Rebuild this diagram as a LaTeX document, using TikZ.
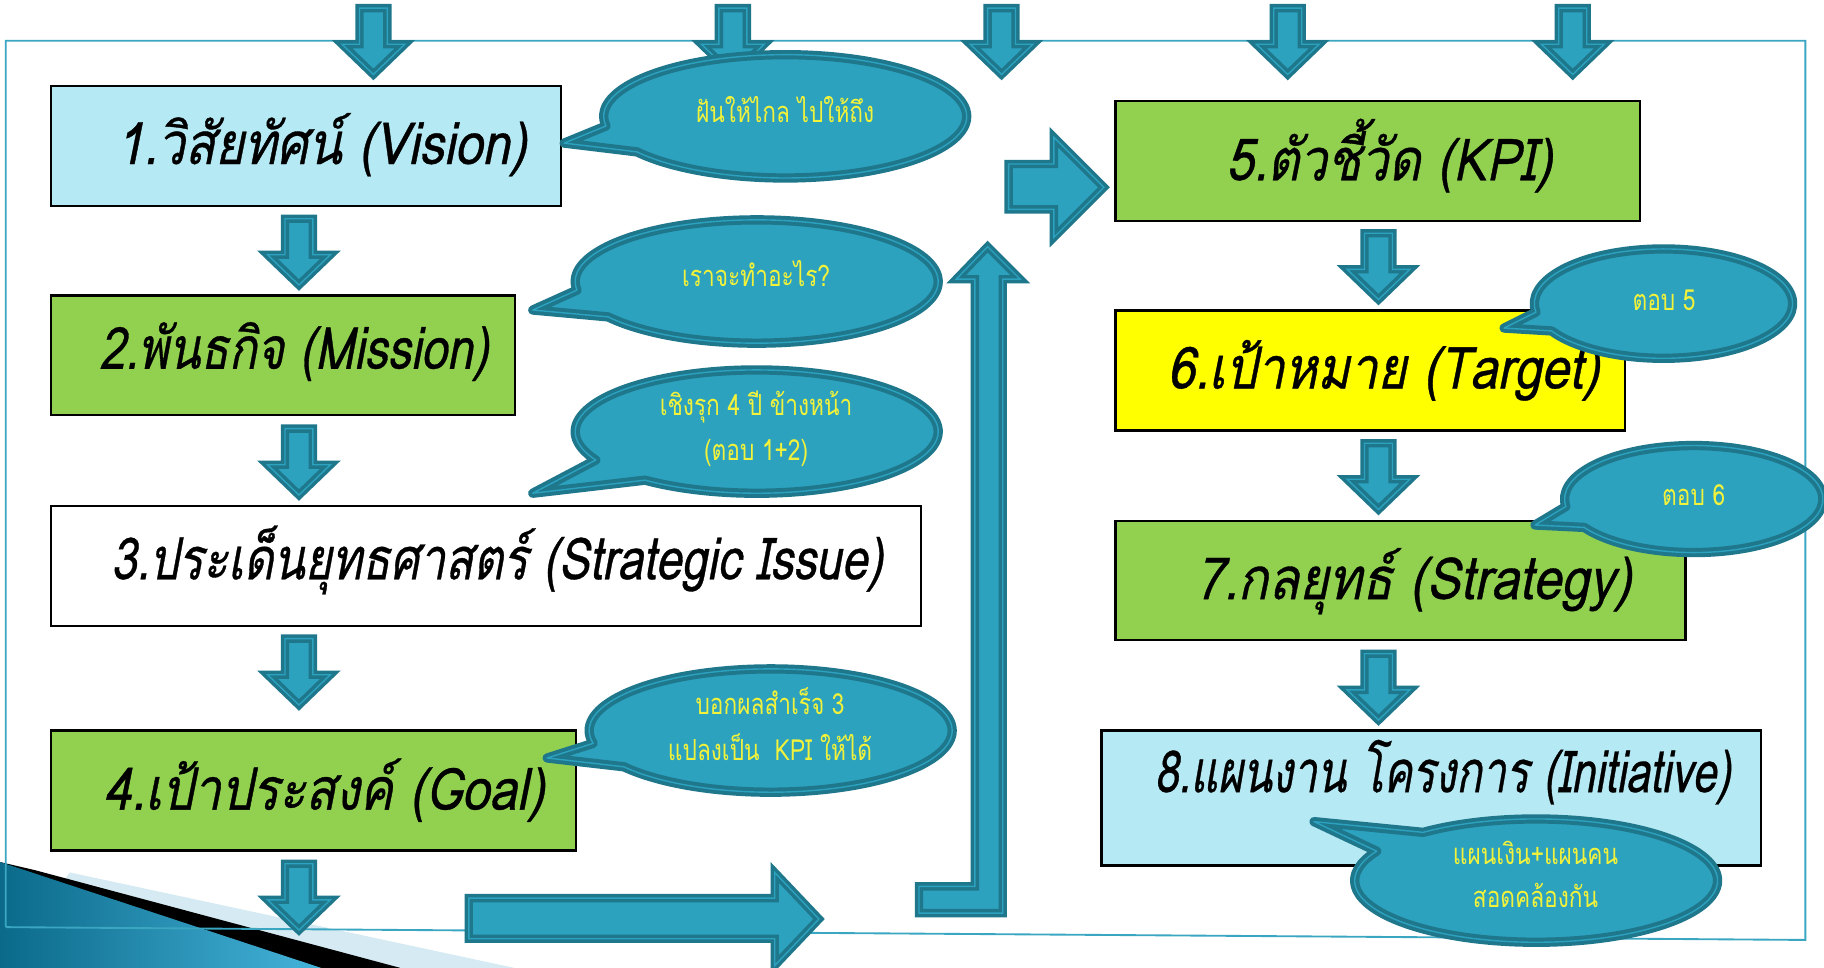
\documentclass[tikz,border=0pt]{standalone}
\usepackage{fontspec}
\usetikzlibrary{calc}
\newfontfamily\boxfont[Script=Thai,FakeSlant=0.2,FakeStretch=0.85,FakeBold=0.6]{Loma}
\newfontfamily\callfont[Script=Thai,FakeStretch=0.78]{Loma}
\definecolor{tealfill}{HTML}{2CA2BF}
\definecolor{tealdark}{HTML}{1F778C}
\definecolor{framecol}{HTML}{3AA6C2}
\definecolor{lightcyan}{HTML}{B5E9F3}
\definecolor{boxgreen}{HTML}{92D050}
\definecolor{boxyellow}{HTML}{FFFF00}
\definecolor{callyellow}{HTML}{F2F23A}
\definecolor{swlight}{HTML}{D5EAF2}
\definecolor{swdark}{HTML}{0B6A8A}
\definecolor{swmid}{HTML}{45B3DA}
\tikzset{
  tealshape/.style={fill=tealfill, draw=tealdark, line width=1.5pt, double=tealfill, double distance=0.6pt, line join=miter},
  callshape/.style={fill=tealfill, draw=tealdark, line width=1.7pt, double=tealfill, double distance=0.6pt, line join=round},
  box/.style={draw=black, line width=1pt, inner sep=0pt},
  btext/.style={font=\boxfont\fontsize{25}{30}\selectfont, anchor=base, inner sep=0pt},
  ctext/.style={font=\callfont\fontsize{12.5}{14}\selectfont, text=callyellow, anchor=base, inner sep=0pt},
  framestyle/.style={draw=framecol, line width=0.8pt}
}
\newcommand\dnarrow[2]{%
  \draw[tealshape] ({#1-12},{#2}) -- ({#1+12},{#2}) -- ({#1+12},{#2+31}) -- ({#1+27},{#2+31})
    -- ({#1},{#2+57}) -- ({#1-27},{#2+31}) -- ({#1-12},{#2+31}) -- cycle;}
\newcommand\callbubble[8]{%
  \draw[callshape] ($(#1,#2)+(#5:#3 and #4)$) arc[start angle=#5, end angle=#6, x radius=#3, y radius=#4]
    -- (#7,#8) -- cycle;}
\begin{document}
\begin{tikzpicture}[x=0.5pt,y=-0.5pt]
\useasboundingbox (0,0) rectangle (1568,832);
\fill[white] (0,0) rectangle (1568,832);
% swoosh bottom-left
\fill[swlight] (60,750) -- (442,832) -- (0,832) -- cycle;
\fill[black] (30,748) -- (344,832) -- (0,832) -- (0,741) -- cycle;
\shade[left color=swdark, right color=swmid] (0,741) -- (276,832) -- (0,832) -- cycle;
% frame
\draw[framestyle] (5,797) -- (5,35) -- (1552,35) -- (1552,808) -- (5,797);
% top arrows
\dnarrow{321}{7}
\dnarrow{630}{7}
\dnarrow{861}{7}
\dnarrow{1107}{7}
\dnarrow{1352}{7}
% left column arrows
\dnarrow{257}{188}
\dnarrow{257}{368.5}
\dnarrow{257}{549}
\dnarrow{257}{742.5}
% right column arrows
\dnarrow{1185}{200.5}
\dnarrow{1185}{381}
\dnarrow{1185}{562}
% right arrow to KPI
\draw[tealshape] (867,141) -- (906,141) -- (906,118) -- (949,161) -- (906,204) -- (906,180) -- (867,180) -- cycle;
% bottom right arrow
\draw[tealshape] (403,772) -- (666,772) -- (666,750) -- (704,790) -- (666,830) -- (666,807) -- (403,807) -- cycle;
% bent up arrow
\draw[tealshape] (790,762) -- (838,762) -- (838,240) -- (822,240) -- (849,212) -- (877,240) -- (862,240) -- (862,785) -- (790,785) -- cycle;
% boxes
\node[box, fill=lightcyan, minimum width=219pt, minimum height=51.5pt] (b1) at (263,125.5) {};
\node[box, fill=boxgreen, minimum width=199.5pt, minimum height=51.5pt] (b2) at (243.5,305.5) {};
\node[box, fill=white, minimum width=374pt, minimum height=51.5pt] (b3) at (418,486.5) {};
\node[box, fill=boxgreen, minimum width=225.5pt, minimum height=51.5pt] (b4) at (269.5,679.5) {};
\node[box, fill=boxgreen, minimum width=225.5pt, minimum height=51.5pt] (b5) at (1184.5,138.5) {};
\node[box, fill=boxyellow, minimum width=219pt, minimum height=51.5pt] (b6) at (1178,318.5) {};
\node[box, fill=boxgreen, minimum width=245pt, minimum height=51pt] (b7) at (1204,499) {};
\node[box, fill=lightcyan, minimum width=283.5pt, minimum height=58pt] (b8) at (1230.5,686) {};
\node[btext] (t1) at (276,141) {1.วิสัยทัศน์ (Vision)};
\node[btext] (t2) at (252.5,317) {\scalebox{0.94}[1]{2.พันธกิจ (Mission)}};
\node[btext] (t3) at (427,498) {\scalebox{0.93}[1]{3.ประเด็นยุทธศาสตร์ (Strategic Issue)}};
\node[btext] (t4) at (278.5,696) {4.เป้าประสงค์ (Goal)};
\node[btext] (t5) at (1194,155) {5.ตัวชี้วัด (KPI)};
\node[btext] (t6) at (1189,334) {6.เป้าหมาย (Target)};
\node[btext] (t7) at (1215,515) {\scalebox{1.02}[1]{7.กลยุทธ์ (Strategy)}};
\node[btext] (t8) at (1240,681) {\scalebox{0.865}[1]{8.แผนงาน โครงการ (Initiative)}};
% callouts
\callbubble{675}{100}{156}{53}{171}{504.8}{485}{123}
\callbubble{650.5}{242}{156}{53}{172}{505}{458}{266.5}
\callbubble{650.5}{371}{156}{53}{152.5}{488}{458}{424}
\callbubble{662.5}{628}{156}{53}{168}{504}{470.4}{651.6}
\callbubble{1430}{261}{111}{47}{171}{510}{1293}{282}
\callbubble{1456}{429}{111}{46}{172}{508}{1319.6}{451.3}
\callbubble{1320.5}{757}{156}{53}{231.5}{568.5}{1129.6}{706.3}
\node[ctext] (c1) at (675,105) {ฝันให้ไกล ไปให้ถึง};
\node[ctext] (c2) at (650,246.5) {เราจะทำอะไร?};
\node[ctext] (c3a) at (650,357) {เชิงรุก 4 ปี ข้างหน้า};
\node[ctext] (c3b) at (650,395.5) {(ตอบ 1+2)};
\node[ctext] (c4a) at (662,614.5) {บอกผลสำเร็จ 3};
\node[ctext] (c4b) at (662,654) {แปลงเป็น\ \ KPI ให้ได้};
\node[ctext] (c5) at (1430.5,266.5) {ตอบ 5};
\node[ctext] (c6) at (1456,434.5) {ตอบ 6};
\node[ctext] (c7a) at (1320,743.5) {แผนเงิน+แผนคน};
\node[ctext] (c7b) at (1320,780.5) {สอดคล้องกัน};
\end{tikzpicture}
\end{document}
